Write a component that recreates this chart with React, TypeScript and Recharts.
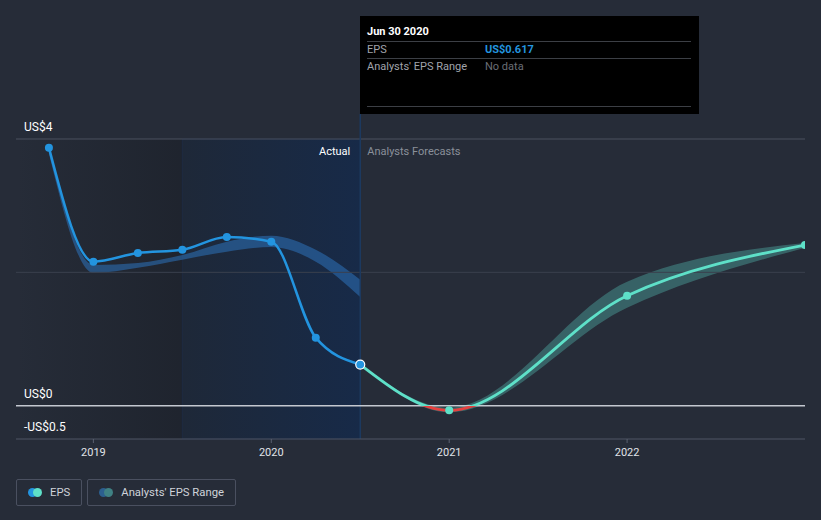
import React from 'react';
import { ComposedChart, Line, Area, XAxis, YAxis, ReferenceLine, ReferenceArea } from 'recharts';

// quarter-end dates as decimal years
const dates = [2018.75, 2019.0, 2019.25, 2019.5, 2019.75, 2020.0, 2020.25, 2020.5, 2021.0, 2022.0, 2023.0];
const epsActual = [3.87, 2.16, 2.29, 2.34, 2.53, 2.46, 1.02, 0.617, null, null, null];
const epsForecast = [null, null, null, null, null, null, null, 0.617, -0.07, 1.65, 2.41];
const histLow = [3.78, 1.99, 2.07, 2.19, 2.31, 2.38, 2.16, 1.63, null, null, null];
const histHigh = [3.87, 2.11, 2.14, 2.26, 2.46, 2.55, 2.34, 1.89, null, null, null];
const fcLow = [null, null, null, null, null, null, null, 0.617, -0.1, 1.47, 2.37];
const fcHigh = [null, null, null, null, null, null, null, 0.617, -0.03, 1.86, 2.44];

const xTicks = [2019, 2020, 2021, 2022];
const yLabels = [4, 0, -0.5];
const xDomain = [2018.565, 2023.0];
const yDomain = [-0.5, 4];
const pastEnd = 2019.5;
const nowX = 2020.5;

const data = dates.map((t, i) => ({
  t,
  actual: epsActual[i],
  forecast: epsForecast[i],
  histRange: histLow[i] != null ? [histLow[i], histHigh[i]] : null,
  fcRange: fcLow[i] != null ? [fcLow[i], fcHigh[i]] : null,
}));

const fcVals = epsForecast.filter((v) => v != null) as number[];
const fcMax = Math.max(...fcVals);
const fcMin = Math.min(...fcVals);
const zeroOffset = fcMax / (fcMax - fcMin);
const lastActualIdx = epsActual.filter((v) => v != null).length - 1;

const FONT = 'Roboto, "Open Sans", sans-serif';
const BLUE = '#2394df';
const TEAL = '#5ee0c8';

const fmt = (v: number) => (v < 0 ? `-US$${Math.abs(v)}` : `US$${v}`);

const yLabel = (v: number) => (props: any) => {
  const vb = props.viewBox;
  return (
    <text x={vb.x + 8} y={vb.y - 8} fill="#ffffff" fontSize={12} fontFamily={FONT}>
      {fmt(v)}
    </text>
  );
};

const NowLabel = (props: any) => {
  const vb = props.viewBox;
  return (
    <g fontSize={11} fontFamily={FONT}>
      <text x={vb.x - 10} y={vb.y + 16} textAnchor="end" fill="#ffffff">
        Actual
      </text>
      <text x={vb.x + 7} y={vb.y + 16} textAnchor="start" fill="#8a909a">
        Analysts Forecasts
      </text>
    </g>
  );
};

const ActualDot = (props: any) => {
  const { cx, cy, index, value } = props;
  if (value == null || cx == null) return null;
  const last = index === lastActualIdx;
  return (
    <circle
      key={`d${index}`}
      cx={cx}
      cy={cy}
      r={last ? 4.5 : 4}
      fill={BLUE}
      stroke={last ? '#ffffff' : 'none'}
      strokeWidth={last ? 1.2 : 0}
    />
  );
};

const ForecastDot = (props: any) => {
  const { cx, cy, index, value } = props;
  if (value == null || cx == null || index === lastActualIdx) return null;
  return <circle key={`f${index}`} cx={cx} cy={cy} r={4} fill={TEAL} />;
};

const LegendItem = ({ colors, label }: { colors: string[]; label: string }) => (
  <div
    style={{
      display: 'flex',
      alignItems: 'center',
      height: 27,
      padding: '0 11px 0 11px',
      border: '1px solid #4a5060',
      borderRadius: 2,
      boxSizing: 'border-box',
      marginRight: 5,
    }}
  >
    <span style={{ position: 'relative', width: 14, height: 9, marginRight: 8 }}>
      <span style={{ position: 'absolute', left: 0, top: 0, width: 9, height: 9, borderRadius: 5, background: colors[0] }} />
      <span style={{ position: 'absolute', left: 5, top: 0, width: 9, height: 9, borderRadius: 5, background: colors[1] }} />
    </span>
    <span style={{ color: '#cfd3da', fontSize: 11.3, fontFamily: FONT }}>{label}</span>
  </div>
);

export default function App() {
  const lastActual = epsActual[lastActualIdx] as number;
  return (
    <div style={{ position: 'absolute', left: 0, top: 0, width: 821, height: 520, background: '#262c38', overflow: 'hidden' }}>
      <ComposedChart width={821} height={520} data={data} margin={{ top: 139, right: 16, left: 16, bottom: 51 }}>
        <defs>
          <linearGradient id="pastGrad" x1="0" y1="0" x2="1" y2="0">
            <stop offset="0%" stopColor="#161a22" stopOpacity={0} />
            <stop offset="100%" stopColor="#161a22" stopOpacity={0.45} />
          </linearGradient>
          <linearGradient id="actualGrad" x1="0" y1="0" x2="1" y2="0">
            <stop offset="0%" stopColor="#1e2838" />
            <stop offset="100%" stopColor="#172a48" />
          </linearGradient>
          <linearGradient id="fcStroke" x1="0" y1="0" x2="0" y2="1">
            <stop offset={zeroOffset} stopColor={TEAL} />
            <stop offset={zeroOffset} stopColor="#e5403f" />
          </linearGradient>
        </defs>
        <XAxis
          type="number"
          dataKey="t"
          domain={xDomain}
          ticks={xTicks}
          allowDataOverflow
          height={30}
          tick={{ fill: '#e0e3e8', fontSize: 11, fontFamily: FONT, dy: 3 }}
          tickLine={{ stroke: '#5a6070' }}
          tickSize={4}
          axisLine={{ stroke: '#4e5564' }}
        />
        <YAxis type="number" domain={yDomain} hide allowDataOverflow />
        <ReferenceArea x1={xDomain[0]} x2={pastEnd} y1={yDomain[0]} y2={yDomain[1]} fill="url(#pastGrad)" fillOpacity={1} stroke="none" />
        <ReferenceArea x1={pastEnd} x2={nowX} y1={yDomain[0]} y2={yDomain[1]} fill="url(#actualGrad)" fillOpacity={1} stroke="#1d2b42" strokeWidth={1} />
        <ReferenceLine y={yLabels[0]} stroke="#4a505e" strokeWidth={1} label={yLabel(yLabels[0])} />
        <ReferenceLine y={2} stroke="#3a404d" strokeWidth={1} />
        <ReferenceLine y={yLabels[2]} stroke="none" label={yLabel(yLabels[2])} />
        <ReferenceLine
          segment={[{ x: nowX, y: yDomain[0] }, { x: nowX, y: 4.375 }]}
          ifOverflow="visible"
          stroke="#1d3a60"
          strokeWidth={1.5}
        />
        <ReferenceLine x={nowX} stroke="none" label={<NowLabel />} />
        <Area
          type="monotone"
          dataKey="histRange"
          stroke="none"
          fill="#2b6cb0"
          fillOpacity={0.6}
          isAnimationActive={false}
          activeDot={false}
        />
        <Area
          type="monotone"
          dataKey="fcRange"
          stroke="none"
          fill="#5ed8c8"
          fillOpacity={0.32}
          isAnimationActive={false}
          activeDot={false}
        />
        <ReferenceLine y={yLabels[1]} stroke="#c4c8d0" strokeWidth={1.5} label={yLabel(yLabels[1])} />
        <Line
          type="monotone"
          dataKey="forecast"
          stroke="url(#fcStroke)"
          strokeWidth={2.8}
          dot={<ForecastDot />}
          isAnimationActive={false}
          activeDot={false}
        />
        <Line
          type="monotone"
          dataKey="actual"
          stroke={BLUE}
          strokeWidth={2.5}
          dot={<ActualDot />}
          isAnimationActive={false}
          activeDot={false}
        />
      </ComposedChart>

      <div
        style={{
          position: 'absolute',
          left: 360,
          top: 16,
          width: 339,
          height: 98,
          background: '#000000',
          fontFamily: FONT,
          fontSize: 11,
          padding: '0 8px 0 7px',
          boxSizing: 'border-box',
        }}
      >
        <div style={{ color: '#ffffff', fontWeight: 700, paddingTop: 9, height: 16, borderBottom: '1px solid #3c3f45' }}>Jun 30 2020</div>
        <div style={{ display: 'flex', height: 16, lineHeight: '16px', borderBottom: '1px solid #3c3f45' }}>
          <span style={{ color: '#a0a4ac', width: 118 }}>EPS</span>
          <span style={{ color: BLUE, fontWeight: 700 }}>{fmt(lastActual)}</span>
        </div>
        <div style={{ display: 'flex', height: 16, lineHeight: '16px' }}>
          <span style={{ color: '#a0a4ac', width: 118 }}>Analysts' EPS Range</span>
          <span style={{ color: '#6a6e76' }}>No data</span>
        </div>
        <div style={{ position: 'absolute', left: 7, right: 8, top: 90, borderBottom: '1px solid #3c3f45' }} />
      </div>

      <div style={{ position: 'absolute', left: 16, top: 479, display: 'flex' }}>
        <LegendItem colors={[BLUE, TEAL]} label="EPS" />
        <LegendItem colors={['#2c5f8f', '#3f8184']} label="Analysts' EPS Range" />
      </div>
    </div>
  );
}
